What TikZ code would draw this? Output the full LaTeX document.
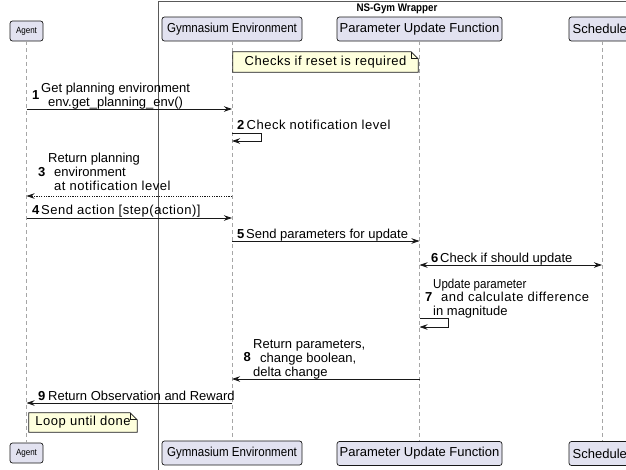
\documentclass[tikz,border=0pt]{standalone}
\usepackage{fontspec}
\setmainfont{Liberation Sans}
\newfontfamily\narrowfont{Liberation Sans}[FakeStretch=0.89]
\newfontfamily\widefont{Liberation Sans}[LetterSpace=4]
\usetikzlibrary{arrows.meta,calc}
\definecolor{partfill}{HTML}{E2E2F0}
\definecolor{notefill}{HTML}{FEFFDD}
\definecolor{edge}{HTML}{181818}

\tikzset{
  part/.style={draw=edge, fill=partfill, rounded corners=2.5pt, line width=0.7pt, inner sep=0pt, minimum height=24pt, font=\fontsize{13}{15}\selectfont},
  life/.style={draw=gray!70, line width=0.5pt, dash pattern=on 4pt off 3pt},
  msg/.style={draw=edge, line width=0.8pt, -{Stealth[length=8pt,width=5.5pt,inset=2.5pt]}},
  back/.style={msg, dash pattern=on 1.2pt off 1.2pt},
  lbl/.style={inner sep=0pt, anchor=base west, font=\fontsize{13}{14.2}\selectfont, align=left},
  num/.style={inner sep=0pt, anchor=base west, font=\bfseries\fontsize{13}{15}\selectfont},
  note/.style={inner sep=0pt, font=\widefont\fontsize{13}{15}\selectfont},
  notebox/.style={draw=edge, fill=notefill, line width=0.7pt},
}

\begin{document}
\begin{tikzpicture}[x=1pt,y=-1pt]
\useasboundingbox (0,0) rectangle (626,469);
\clip (0,0) rectangle (626,469);
% NS-Gym group
\draw[draw=gray!70!black, line width=1pt] (158.5,1) rectangle (700,520);
\node[inner sep=0pt, font=\narrowfont\bfseries\fontsize{11}{13}\selectfont] (wrap) at (397,8.5) {NS-Gym Wrapper};

% participants, top and bottom
\node[part, font=\narrowfont\fontsize{9}{11}\selectfont, minimum width=33pt, minimum height=20pt] (agentT) at (26.5,31) {Agent};
\node[part, font=\narrowfont\fontsize{13}{15}\selectfont, minimum width=140pt] (gymT) at (232,29) {Gymnasium Environment};
\node[part, minimum width=165pt] (paramT) at (419.5,29) {Parameter Update Function};
\node[part, minimum width=66pt] (schedT) at (602,29) {Scheduler};
\node[part, font=\narrowfont\fontsize{9}{11}\selectfont, minimum width=33pt, minimum height=20pt] (agentB) at (26.5,453) {Agent};
\node[part, font=\narrowfont\fontsize{13}{15}\selectfont, minimum width=140pt] (gymB) at (232,453) {Gymnasium Environment};
\node[part, minimum width=165pt] (paramB) at (419.5,453.5) {Parameter Update Function};
\node[part, minimum width=66pt] (schedB) at (602,453.5) {Scheduler};

% lifelines
\draw[life] (agentT) -- (agentB);
\draw[life] (gymT) -- (gymB);
\draw[life] (paramT) -- (paramB);
\draw[life] (schedT) -- (schedB);

% note at the top
\node[note, minimum width=185pt, minimum height=20pt] (reset) at (325.5,62) {};
\draw[notebox] (reset.north west) -- ($(reset.north east)+(-7,0)$) -- ($(reset.north east)+(0,7)$) -- (reset.south east) -- (reset.south west) -- cycle;
\draw[draw=edge, line width=0.7pt] ($(reset.north east)+(-7,0)$) |- ($(reset.north east)+(0,7)$);
\node[note] at (reset) {Checks if reset is required};

% rows of the messages
\coordinate (r1) at (0,109);
\coordinate (r2a) at (0,133);
\coordinate (r2b) at (0,141);
\coordinate (r3) at (0,196);
\coordinate (r4) at (0,218);
\coordinate (r5) at (0,241);
\coordinate (r6) at (0,265);
\coordinate (r7a) at (0,318);
\coordinate (r7b) at (0,327);
\coordinate (r8) at (0,379);
\coordinate (r9) at (0,403);

% 1
\node[num] (n1) at (32,99) {1};
\node[lbl, align=center, font=\fontsize{13}{13.5}\selectfont] (t1) at (41,106) {Get planning environment\\env.get\_planning\_env()};
\draw[msg] (agentT |- r1) -- (gymT |- r1);

% 2
\node[num] (n2) at (237,129.5) {2};
\node[lbl, font=\widefont\fontsize{13}{15}\selectfont] (t2) at (246.5,129.5) {Check notification level};
\draw[msg] (gymT |- r2a) -- ++(29,0) |- (gymT |- r2b);

% 3
\node[num] (n3) at (38,176) {3};
\node[lbl] (t3) at (48,190.5) {Return planning\\\hspace*{6pt}environment\\\hspace*{6pt}{\widefont at notification level}};
\draw[back] (gymT |- r3) -- (agentT |- r3);

% 4
\node[num] (n4) at (32,214.5) {4};
\node[lbl, font=\widefont\fontsize{13}{15}\selectfont] (t4) at (41,214.5) {Send action [step(action)]};
\draw[msg] (agentT |- r4) -- (gymT |- r4);

% 5
\node[num] (n5) at (237,238) {5};
\node[lbl] (t5) at (246,238) {Send parameters for update};
\draw[msg] (gymT |- r5) -- (paramT |- r5);

% 6
\node[num] (n6) at (431,262.5) {6};
\node[lbl] (t6) at (440,262.5) {Check if should update};
\draw[msg, {Stealth[length=8pt,width=5.5pt,inset=2.5pt]}-{Stealth[length=8pt,width=5.5pt,inset=2.5pt]}] (paramT |- r6) -- (schedT |- r6);

% 7
\node[num] (n7) at (425,301.5) {7};
\node[lbl, font=\fontsize{13}{13.5}\selectfont] (t7) at (433,315) {{\narrowfont Update parameter}\\\hspace*{8pt}{\widefont and calculate difference}\\in magnitude};
\draw[msg] (paramT |- r7a) -- ++(29,0) |- (paramT |- r7b);

% 8
\node[num] (n8) at (243.5,361.5) {8};
\node[lbl, font=\fontsize{13}{13.7}\selectfont] (t8) at (253,376) {Return parameters,\\\hspace*{7pt}change boolean,\\delta change};
\draw[msg] (paramT |- r8) -- (gymT |- r8);

% 9
\node[num] (n9) at (38,400.5) {9};
\node[lbl] (t9) at (48,400.5) {Return Observation and Reward};
\draw[msg] (gymT |- r9) -- (agentT |- r9);

% note at the end
\node[note, minimum width=108pt, minimum height=19pt] (done) at (83,422.5) {};
\draw[notebox] (done.north west) -- ($(done.north east)+(-7,0)$) -- ($(done.north east)+(0,7)$) -- (done.south east) -- (done.south west) -- cycle;
\draw[draw=edge, line width=0.7pt] ($(done.north east)+(-7,0)$) |- ($(done.north east)+(0,7)$);
\node[note] at (done) {Loop until done};
\end{tikzpicture}
\end{document}
